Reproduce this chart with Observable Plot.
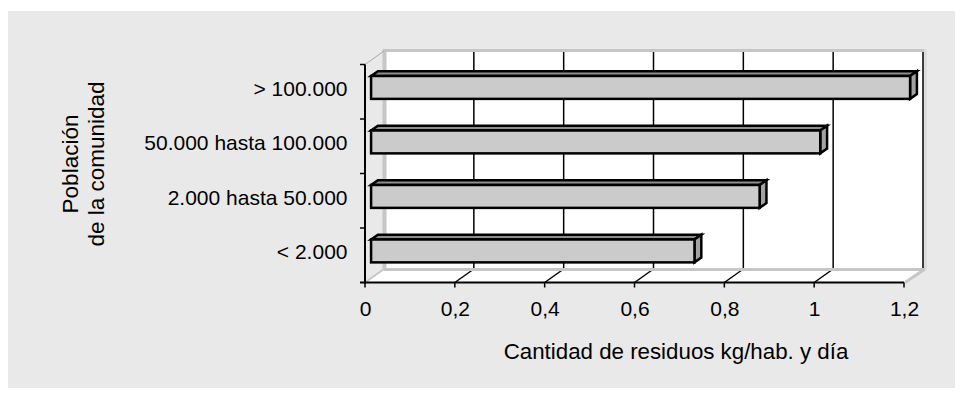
<!DOCTYPE html>
<html>
<head>
<meta charset="utf-8">
<script src="https://cdn.jsdelivr.net/npm/d3@7"></script>
<script src="https://cdn.jsdelivr.net/npm/@observablehq/plot@0.6"></script>
<style>
  html, body { margin: 0; padding: 0; background: #fff; }
  #panel { position: absolute; left: 8px; top: 11px; width: 947px; height: 377px; background: #e9e9e9; }
  #chart { position: absolute; left: 0; top: 0; }
</style>
</head>
<body>
<div id="panel"></div>
<div id="chart"></div>
<script>
// Waste generated per inhabitant and day, by community size
const categories = ["> 100.000", "50.000 hasta 100.000", "2.000 hasta 50.000", "< 2.000"];
const values = [1.2, 1.0, 0.865, 0.72];
const xTicks = [0, 0.2, 0.4, 0.6, 0.8, 1, 1.2];
const xTitle = "Cantidad de residuos kg/hab. y día";
const yTitleLines = ["Población", "de la comunidad"];

const rows = categories.map((category, i) => ({category, value: values[i]}));

// Oblique projection of the depth axis: pixel shift for the full depth of the box
const DX = 19, DY = -13.5;
// Bars sit in the middle of the depth
const BAR_D0 = 0.32, BAR_D1 = 0.68;
const FONT = "'Liberation Sans', Arial, Helvetica, sans-serif";
const WALL = "#c6c6c6";
const fmt = d => String(d).replace(".", ",");

function polygon(g, pts, attrs) {
  const p = g.append("polygon").attr("points", pts.map(d => d.join(",")).join(" "));
  for (const [k, v] of Object.entries(attrs)) p.attr(k, v);
  return p;
}
function line(g, x1, y1, x2, y2, stroke, width) {
  g.append("line").attr("x1", x1).attr("y1", y1).attr("x2", x2).attr("y2", y2)
    .attr("stroke", stroke).attr("stroke-width", width);
}

// Back wall, floor and their grid
function walls(index, scales, values, dim) {
  const {x} = scales;
  const g = d3.create("svg:g");
  const [d0, d1] = x.domain();
  const x0 = x(d0), x1 = x(d1);
  const top = dim.marginTop, bottom = dim.height - dim.marginBottom;

  // back wall
  polygon(g, [[x0 + DX, top + DY], [x1 + DX, top + DY], [x1 + DX, bottom + DY], [x0 + DX, bottom + DY]],
    {fill: "#fff"});
  // floor
  polygon(g, [[x0, bottom], [x1, bottom], [x1 + DX, bottom + DY], [x0 + DX, bottom + DY]], {fill: "#fff"});

  // grid on the back wall and on the floor
  for (const t of xTicks) {
    if (t === d0) continue;
    const xt = x(t);
    line(g, xt + DX, top + DY, xt + DX, bottom + DY, "#000", 1.5);
    if (t !== d1) line(g, xt, bottom, xt + DX, bottom + DY, "#000", 1.5);
  }

  // wall edges
  line(g, x0 + DX - 1, top + DY - 0.5, x1 + DX + 4, top + DY - 0.5, WALL, 3);
  line(g, x0 + DX + 0.5, top + DY - 2, x0 + DX + 0.5, bottom + DY, WALL, 4);
  line(g, x1 + DX + 2.5, top + DY - 2, x1 + DX + 2.5, bottom + DY, "#dcdcdc", 3);
  line(g, x0 + DX, bottom + DY + 0.5, x1 + DX + 2, bottom + DY + 0.5, WALL, 3);
  line(g, x0, bottom, x0 + DX, bottom + DY, WALL, 2);
  line(g, x1 + 1, bottom, x1 + DX + 2, bottom + DY, WALL, 3);
  line(g, x0, top, x0 + DX, top + DY, "#a8a8a8", 1);
  return g.node();
}

// Front axes: value axis line with ticks, category axis with ticks at band edges
function axes(index, scales, values, dim) {
  const {x, y} = scales;
  const g = d3.create("svg:g");
  const [d0, d1] = x.domain();
  const x0 = x(d0), x1 = x(d1);
  const top = dim.marginTop, bottom = dim.height - dim.marginBottom;
  line(g, x0, top, x0, bottom + 1, "#000", 2);
  line(g, x0 - 5, bottom, x1, bottom, "#000", 2);
  for (const t of xTicks) line(g, x(t), bottom, x(t), bottom + 5, "#000", 1.5);
  const step = y.step(), bw = y.bandwidth();
  for (const c of y.domain()) {
    const yc = y(c) + bw / 2;
    line(g, x0 - 5, yc - step / 2, x0, yc - step / 2, "#000", 1.5);
  }
  return g.node();
}

// Top and side faces of each bar
function barFaces(index, scales) {
  const {x, y} = scales;
  const g = d3.create("svg:g");
  const bw = y.bandwidth();
  const a = [BAR_D0 * DX, BAR_D0 * DY], b = [BAR_D1 * DX, BAR_D1 * DY];
  for (const r of rows) {
    const xa = x(0), xb = x(r.value);
    const yt = y(r.category), yb = yt + bw;
    const style = {stroke: "#000", "stroke-width": 2.5, "stroke-linejoin": "miter"};
    polygon(g, [[xa + a[0], yt + a[1]], [xb + a[0], yt + a[1]], [xb + b[0], yt + b[1]], [xa + b[0], yt + b[1]]],
      {fill: "#8e8e8e", ...style});
    polygon(g, [[xb + a[0], yt + a[1]], [xb + b[0], yt + b[1]], [xb + b[0], yb + b[1]], [xb + a[0], yb + a[1]]],
      {fill: "#a2a2a2", ...style});
  }
  return g.node();
}

const chart = Plot.plot({
  width: 964,
  height: 399,
  marginLeft: 365,
  marginRight: 60,
  marginTop: 64.5,
  marginBottom: 116.5,
  style: {background: "transparent", fontFamily: FONT, color: "#000", overflow: "visible"},
  x: {domain: [0, 1.2], axis: null},
  y: {domain: categories, axis: null, paddingInner: 0.58, paddingOuter: 0.29, round: false},
  marks: [
    walls,
    barFaces,
    Plot.barX(rows, {
      x: "value", y: "category",
      dx: BAR_D0 * DX, dy: BAR_D0 * DY,
      fill: "#cbcbcb", stroke: "#000", strokeWidth: 2.5
    }),
    axes,
    Plot.text(categories, {
      y: d => d, text: d => d, frameAnchor: "left", textAnchor: "end",
      dx: -18, dy: -3, fontSize: 21, fill: "#000"
    }),
    Plot.text(xTicks, {
      x: d => d, text: fmt, frameAnchor: "bottom", textAnchor: "middle", dy: 33, fontSize: 21, fill: "#000"
    }),
    Plot.text([xTitle], {
      text: d => d, frameAnchor: "bottom", textAnchor: "middle", dx: 41, dy: 76, fontSize: 22.3, fill: "#000"
    }),
    Plot.text([yTitleLines[0]], {
      text: d => d, frameAnchor: "left", textAnchor: "middle", rotate: -90,
      dx: -295, dy: -10, fontSize: 22.5, fill: "#000"
    }),
    Plot.text([yTitleLines[1]], {
      text: d => d, frameAnchor: "left", textAnchor: "middle", rotate: -90,
      dx: -269, dy: -10, fontSize: 22.5, fill: "#000"
    })
  ]
});

document.getElementById("chart").append(chart);
</script>
</body>
</html>
